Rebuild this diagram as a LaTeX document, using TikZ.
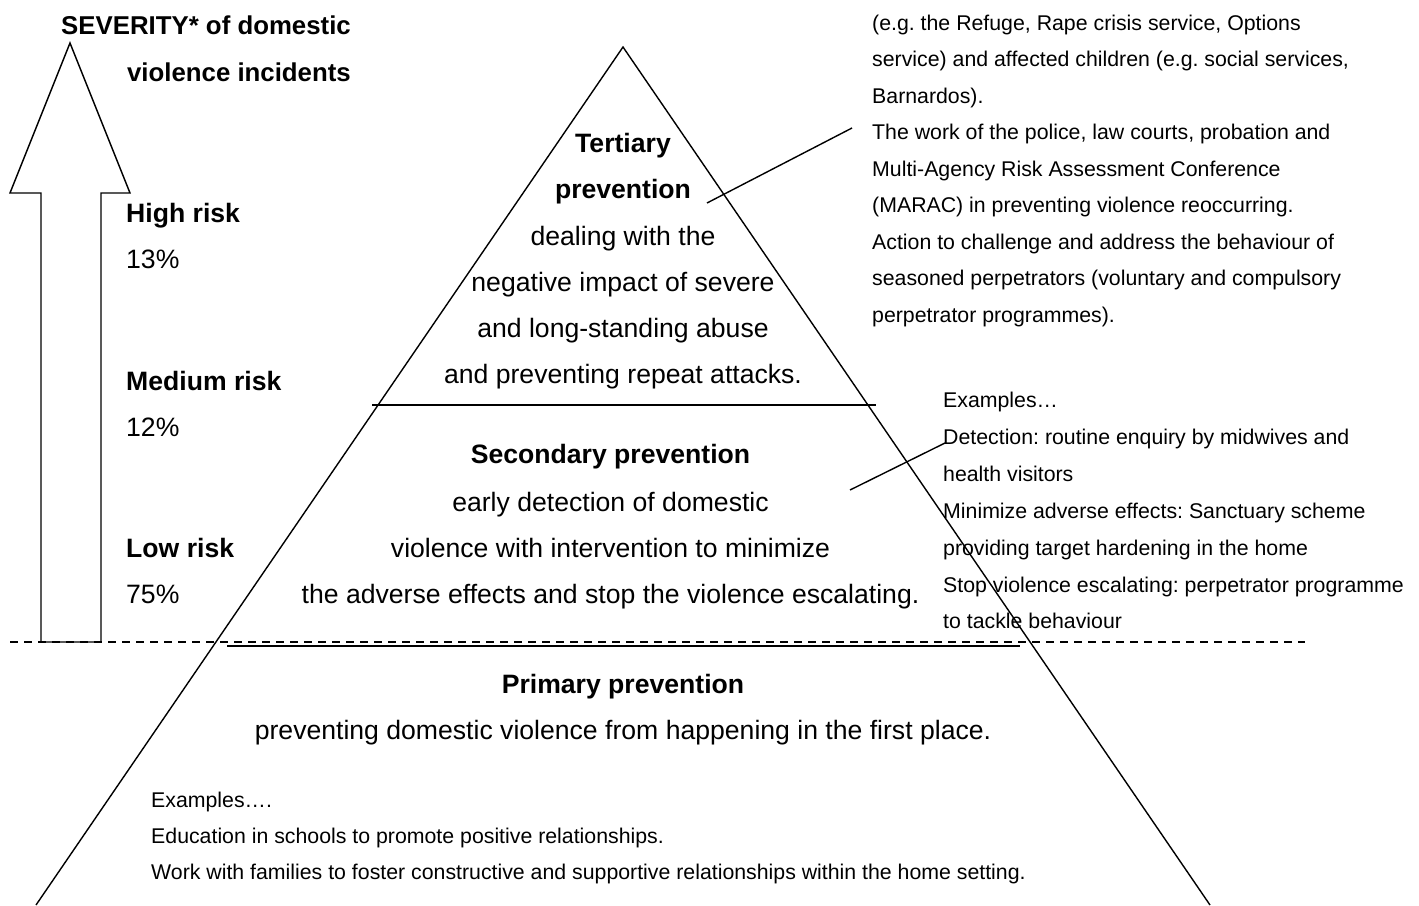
\documentclass[tikz,border=0pt]{standalone}
\usepackage{fontspec}
\setmainfont{Liberation Sans}
\frenchspacing
\begin{document}
\begin{tikzpicture}[x=1pt,y=-1pt,
  line/.style={line width=1.4pt,black},
  big/.style={font=\fontsize{26.6}{30}\selectfont,anchor=base,inner sep=0pt},
  bigb/.style={font=\fontsize{26.6}{30}\selectfont\bfseries,anchor=base,inner sep=0pt},
  lab/.style={font=\fontsize{26.6}{30}\selectfont,anchor=base west,inner sep=0pt},
  labb/.style={font=\fontsize{26.6}{30}\selectfont\bfseries,anchor=base west,inner sep=0pt},
  sev/.style={font=\fontsize{25.8}{30}\selectfont\bfseries,anchor=base east,inner sep=0pt},
  small/.style={font=\fontsize{21.3}{25}\selectfont,anchor=base west,inner sep=0pt}]
\useasboundingbox (0,0) rectangle (1419,905);
% arrow
\draw[line,line join=miter] (41,642) -- (41,193) -- (10,193) -- (70,43) -- (130,193) -- (101,193) -- (101,642) -- cycle;
% pyramid
\coordinate (apex) at (623,47);
\coordinate (bl) at (36,905);
\coordinate (br) at (1210,905);
\draw[line] (bl) -- (apex) -- (br);
\coordinate (d1a) at (372,405);
\coordinate (d1b) at (876,405);
\draw[line] (d1a) -- (d1b);
\coordinate (dsa) at (10,642);
\coordinate (dsb) at (1305,642);
\draw[line width=1.1pt,dash pattern=on 8pt off 6pt] (dsa) -- (dsb);
\coordinate (sla) at (227,646);
\coordinate (slb) at (1020,646);
\draw[line] (sla) -- (slb);
% leaders
\coordinate (l1a) at (707,203);
\coordinate (l1b) at (852,128);
\draw[line] (l1a) -- (l1b);
\coordinate (l2a) at (850,490);
\coordinate (l2b) at (945,443);
\draw[line] (l2a) -- (l2b);
% severity
\node[sev] (sev1) at (351,34) {SEVERITY* of domestic};
\node[sev] (sev2) at (351,81) {violence incidents};
% left labels
\node[labb] (hr) at (126,222) {High risk};
\node[lab] (hp) at (126,268) {13\%};
\node[labb] (mr) at (126,390) {Medium risk};
\node[lab] (mp) at (126,436) {12\%};
\node[labb] (lr) at (126,557) {Low risk};
\node[lab] (lp) at (126,603) {75\%};
% tertiary
\node[bigb] (t1) at (623,152) {Tertiary};
\node[bigb] (t2) at (623,198) {prevention};
\node[big] (t3) at (623,245) {dealing with the};
\node[big] (t4) at (623,291) {negative impact of severe};
\node[big] (t5) at (623,337) {and long-standing abuse};
\node[big] (t6) at (623,383) {and preventing repeat attacks.};
% secondary
\node[bigb] (s1) at (610.5,463) {Secondary prevention};
\node[big] (s2) at (610.5,511) {early detection of domestic};
\node[big] (s3) at (610.5,557) {violence with intervention to minimize};
\node[big] (s4) at (610.5,603) {the adverse effects and stop the violence escalating.};
% primary
\node[bigb] (p1) at (623,693) {Primary prevention};
\node[big] (p2) at (623,739) {preventing domestic violence from happening in the first place.};
% top right
\node[small] (r1) at (872,30) {(e.g. the Refuge, Rape crisis service, Options};
\node[small] (r2) at (872,66.5) {service) and affected children (e.g. social services,};
\node[small] (r3) at (872,103) {Barnardos).};
\node[small] (r4) at (872,139.5) {The work of the police, law courts, probation and};
\node[small] (r5) at (872,176) {Multi-Agency Risk Assessment Conference};
\node[small] (r6) at (872,212.5) {(MARAC) in preventing violence reoccurring.};
\node[small] (r7) at (872,249) {Action to challenge and address the behaviour of};
\node[small] (r8) at (872,285.5) {seasoned perpetrators (voluntary and compulsory};
\node[small] (r9) at (872,322) {perpetrator programmes).};
% secondary examples
\node[small] (e1) at (943,407) {Examples…};
\node[small] (e2) at (943,444) {Detection: routine enquiry by midwives and};
\node[small] (e3) at (943,481) {health visitors};
\node[small] (e4) at (943,518) {Minimize adverse effects: Sanctuary scheme};
\node[small] (e5) at (943,555) {providing target hardening in the home};
\node[small] (e6) at (943,592) {Stop violence escalating: perpetrator programme};
\node[small] (e7) at (943,628) {to tackle behaviour};
% primary examples
\node[small] (b1) at (151,807) {Examples….};
\node[small] (b2) at (151,843) {Education in schools to promote positive relationships.};
\node[small] (b3) at (151,879) {Work with families to foster constructive and supportive relationships within the home setting.};
\end{tikzpicture}
\end{document}
